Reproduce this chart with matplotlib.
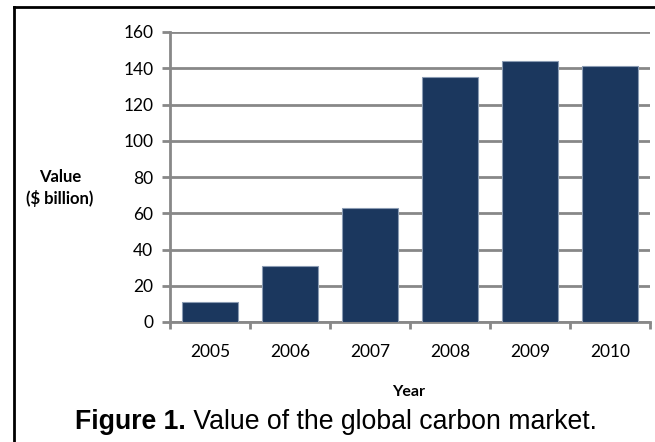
import matplotlib.pyplot as plt
from matplotlib.lines import Line2D

# Global carbon market value by year ($ billion)
years = ["2005", "2006", "2007", "2008", "2009", "2010"]
values = [11, 31, 63, 135, 144, 141]
y_ticks = [0, 20, 40, 60, 80, 100, 120, 140, 160]

bar_color = "#1b375e"
grid_color = "#888888"

fig = plt.figure(figsize=(6.55, 4.42), dpi=100)
ax = fig.add_axes([170 / 655, 1 - 322 / 442, 480 / 655, 290 / 442])

x = range(len(years))
ax.bar(x, values, width=0.7, color=bar_color, edgecolor="#8a9bb3", linewidth=0.8, zorder=3)

ax.set_xlim(-0.5, len(years) - 0.5)
ax.set_ylim(0, 160)
ax.set_yticks(y_ticks)
ax.set_xticks(x)
ax.set_xticklabels(years)

# Category ticks sit between the bars
ax.set_xticks([i - 0.5 for i in range(len(years) + 1)], minor=True)
ax.tick_params(axis="x", which="major", length=0, pad=16, labelsize=12.5)
ax.tick_params(axis="x", which="minor", length=5, width=2, color=grid_color, direction="out")
ax.tick_params(axis="y", length=6, width=2, color=grid_color, labelsize=12.5, pad=6)
for lbl in ax.get_xticklabels() + ax.get_yticklabels():
    lbl.set_family("Lato")

ax.grid(axis="y", color=grid_color, linewidth=2, zorder=0)
for side in ["top", "right"]:
    ax.spines[side].set_visible(False)
for side in ["left", "bottom"]:
    ax.spines[side].set_color(grid_color)
    ax.spines[side].set_linewidth(2)

fig.text(60 / 655, 1 - 188 / 442, "Value\n($ billion)", ha="center", va="center",
         fontsize=12, fontweight="bold", family="Lato", linespacing=1.35)
fig.text(409 / 655, 1 - 392 / 442, "Year", ha="center", va="center",
         fontsize=11.5, fontweight="bold", family="Lato")

# Caption: bold figure number followed by plain description
cap_bold = fig.text(75 / 655, 1 - 422 / 442, "Figure 1.", ha="left", va="center",
                    fontsize=19.2, fontweight="bold", family="Liberation Sans")
ax.annotate(" Value of the global carbon market.", xy=(1, 0.5), xycoords=cap_bold,
            ha="left", va="center", fontsize=19.2, family="Liberation Sans",
            annotation_clip=False)

# Frame around the figure
fig.add_artist(Line2D([14 / 655, 14 / 655], [0, 1 - 7 / 442], color="black", linewidth=2,
                      transform=fig.transFigure))
fig.add_artist(Line2D([14 / 655, 1], [1 - 7 / 442, 1 - 7 / 442], color="black", linewidth=2,
                      transform=fig.transFigure))

fig.savefig("out.png", dpi=100)
